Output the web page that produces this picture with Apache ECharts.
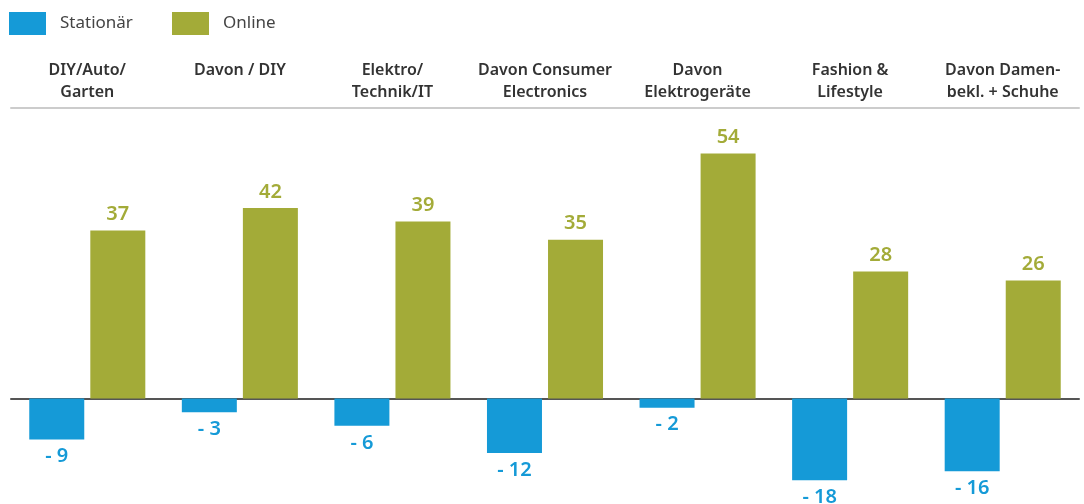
<!DOCTYPE html>
<html>
<head>
<meta charset="utf-8">
<script src="https://cdn.jsdelivr.net/npm/echarts@6/dist/echarts.min.js"></script>
<style>html,body{margin:0;padding:0;background:#fff}#c{width:1084px;height:504px}</style>
</head>
<body>
<div id="c"></div>
<script>
const categories = ['DIY/Auto/\nGarten', 'Davon / DIY', 'Elektro/\nTechnik/IT', 'Davon Consumer\nElectronics', 'Davon\nElektrogeräte', 'Fashion &\nLifestyle', 'Davon Damen-\nbekl. + Schuhe'];
const stationaer = [-9, -3, -6, -12, -2, -18, -16];
const online = [37, 42, 39, 35, 54, 28, 26];
const seriesNames = ['Stationär', 'Online'];

const BLUE = '#159ad7', GREEN = '#a3ab38';
const FONT = 'Noto Sans';
const chart = echarts.init(document.getElementById('c'));
chart.setOption({
  animation: false,
  legend: [
    { data: [seriesNames[0]], left: 4, top: 7, itemWidth: 37, itemHeight: 23, icon: 'rect',
      textStyle: { fontFamily: FONT, fontSize: 17, color: '#444', padding: [0,0,0,9] } },
    { data: [seriesNames[1]], left: 167, top: 7, itemWidth: 37, itemHeight: 23, icon: 'rect',
      textStyle: { fontFamily: FONT, fontSize: 17, color: '#444', padding: [0,0,0,9] } }
  ],
  grid: { left: 11, right: 5, top: 108, height: 395 },
  xAxis: [
    { type: 'category', data: categories, position: 'top',
      axisLine: { onZero: false, lineStyle: { color: '#cccccc', width: 2 } },
      axisTick: { show: false },
      axisLabel: { margin: 5, fontFamily: FONT, fontSize: 16, fontWeight: 600, color: '#333', lineHeight: 22, interval: 0,
        formatter: v => v.indexOf('\n') < 0 ? v + '\n ' : v } },
    { type: 'category', data: categories, position: 'bottom',
      axisLine: { onZero: true, lineStyle: { color: '#555', width: 2 } },
      axisTick: { show: false }, axisLabel: { show: false } }
  ],
  yAxis: { type: 'value', min: -23, max: 64, show: false, splitLine: { show: false } },
  series: [
    { name: seriesNames[0], type: 'bar', data: stationaer, barWidth: 55, barGap: '11%',
      itemStyle: { color: BLUE },
      label: { show: true, position: 'bottom', distance: 7, color: BLUE, fontFamily: FONT, fontSize: 20, fontWeight: 600,
        formatter: p => '- ' + Math.abs(p.value) } },
    { name: seriesNames[1], type: 'bar', data: online, barWidth: 55, barGap: '11%',
      itemStyle: { color: GREEN },
      label: { show: true, position: 'top', distance: 6, color: GREEN, fontFamily: FONT, fontSize: 20, fontWeight: 600 } }
  ]
});
</script>
</body>
</html>
